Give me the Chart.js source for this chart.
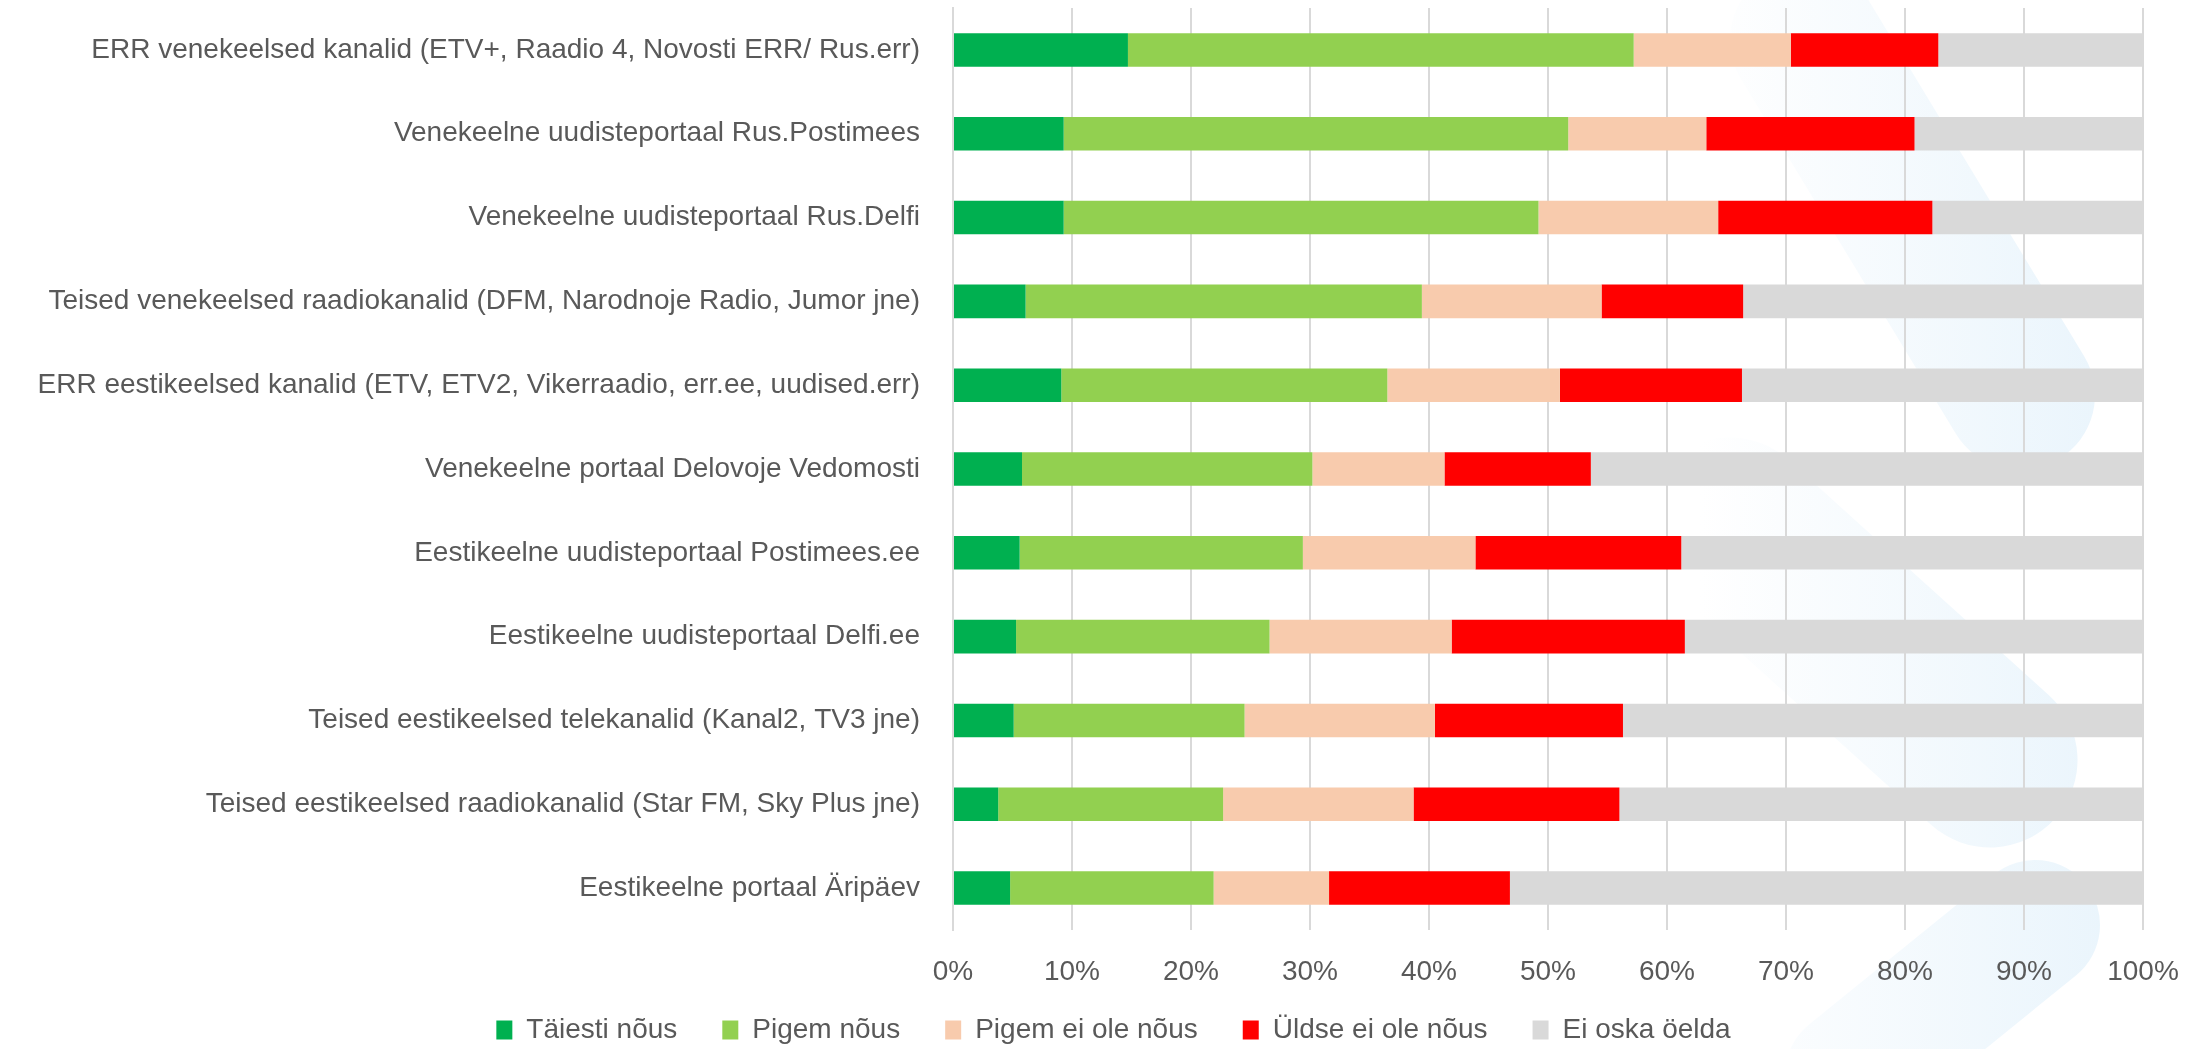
<!DOCTYPE html>
<html>
<head>
<meta charset="utf-8">
<script src="https://cdn.jsdelivr.net/npm/chart.js@4.4.1/dist/chart.umd.min.js"></script>
<style>
  html, body { margin: 0; padding: 0; background: #ffffff; }
  #wrap { width: 2204px; height: 1049px; position: relative; }
  #bg { position: absolute; left: 0; top: 0; z-index: 0; }
  #c { position: absolute; left: 0; top: 0; z-index: 1; }
</style>
</head>
<body>
<div id="wrap">
  <svg id="bg" width="2204" height="1049" xmlns="http://www.w3.org/2000/svg">
    <defs>
      <linearGradient id="wm" gradientUnits="userSpaceOnUse" x1="1700" y1="0" x2="2260" y2="0">
        <stop offset="0" stop-color="#FFFFFF"/>
        <stop offset="1" stop-color="#E2F1FB"/>
      </linearGradient>
    </defs>
    <g stroke="url(#wm)" fill="none" stroke-linecap="round">
      <line x1="1805" y1="40" x2="2020" y2="395" stroke-width="150"/>
      <line x1="1730" y1="525" x2="1990" y2="760" stroke-width="175"/>
      <line x1="1850" y1="1075" x2="2035" y2="925" stroke-width="130"/>
    </g>
  </svg>
  <canvas id="c" width="2204" height="1049"></canvas>
</div>
<script>
const categories = [
  "ERR venekeelsed kanalid (ETV+, Raadio 4, Novosti ERR/ Rus.err)",
  "Venekeelne uudisteportaal Rus.Postimees",
  "Venekeelne uudisteportaal Rus.Delfi",
  "Teised venekeelsed raadiokanalid (DFM, Narodnoje Radio, Jumor jne)",
  "ERR eestikeelsed kanalid (ETV, ETV2, Vikerraadio, err.ee, uudised.err)",
  "Venekeelne portaal Delovoje Vedomosti",
  "Eestikeelne uudisteportaal Postimees.ee",
  "Eestikeelne uudisteportaal Delfi.ee",
  "Teised eestikeelsed telekanalid (Kanal2, TV3 jne)",
  "Teised eestikeelsed raadiokanalid (Star FM, Sky Plus jne)",
  "Eestikeelne portaal Äripäev"
];
const seriesNames = ["Täiesti nõus", "Pigem nõus", "Pigem ei ole nõus", "Üldse ei ole nõus", "Ei oska öelda"];
const taiestiNous   = [14.7, 9.3, 9.3, 6.1, 9.1, 5.8, 5.6, 5.3, 5.1, 3.8, 4.8];
const pigemNous     = [42.5, 42.4, 39.9, 33.3, 27.4, 24.4, 23.8, 21.3, 19.4, 18.9, 17.1];
const pigemEiOle    = [13.2, 11.6, 15.1, 15.1, 14.5, 11.1, 14.5, 15.3, 16.0, 16.0, 9.7];
const uldseEiOle    = [12.4, 17.5, 18.0, 11.9, 15.3, 12.3, 17.3, 19.6, 15.8, 17.3, 15.2];
const eiOskaOelda   = [17.2, 19.2, 17.7, 33.6, 33.7, 46.4, 38.8, 38.5, 43.7, 44.0, 53.2];
const xTickValues = [0, 10, 20, 30, 40, 50, 60, 70, 80, 90, 100];
const colors = ["#00B050", "#92D050", "#F8CBAD", "#FF0000", "#D9D9D9"];

const seriesData = [taiestiNous, pigemNous, pigemEiOle, uldseEiOle, eiOskaOelda];
const FONT = "'Liberation Sans', Arial, sans-serif";
const TEXT = "#595959";
const FS = 28;

const legendPlacePlugin = {
  id: 'legendPlace',
  beforeInit(chart) {
    const lg = chart.legend;
    if (!lg) return;
    const orig = lg.fit;
    lg.fit = function () { orig.call(this); this.height = 60; };
  },
  afterLayout(chart) {
    const lg = chart.legend;
    if (!lg) return;
    lg.top -= 18;
    lg.left += 42; lg.right += 42;
  }
};

new Chart(document.getElementById('c'), {
  type: 'bar',
  data: {
    labels: categories,
    datasets: seriesData.map((d, i) => ({
      label: seriesNames[i],
      data: d,
      backgroundColor: colors[i],
      borderWidth: 0,
      barPercentage: 0.4,
      categoryPercentage: 1.0
    }))
  },
  plugins: [legendPlacePlugin],
  options: {
    indexAxis: 'y',
    responsive: false,
    animation: false,
    layout: { padding: { top: 8, right: 61, bottom: 0, left: 0 } },
    scales: {
      x: {
        stacked: true,
        min: 0, max: 100,
        afterBuildTicks: (s) => { s.ticks = xTickValues.map(v => ({ value: v })); },
        afterFit: (s) => { s.height = 59; s.paddingLeft = 0; s.paddingRight = 0; },
        ticks: {
          callback: (v) => v + '%',
          color: TEXT,
          font: { family: FONT, size: FS },
          padding: 25,
          maxRotation: 0
        },
        grid: { color: '#D9D9D9', lineWidth: 2, drawTicks: false },
        border: { display: false }
      },
      y: {
        stacked: true,
        afterFit: (s) => { s.width = 953; s.paddingTop = 0; s.paddingBottom = 0; },
        ticks: {
          color: TEXT,
          font: { family: FONT, size: FS },
          padding: 33,
          autoSkip: false
        },
        grid: { display: false, drawTicks: false },
        border: { display: true, color: '#D9D9D9', width: 2 }
      }
    },
    plugins: {
      legend: {
        position: 'bottom',
        labels: {
          color: TEXT,
          font: { family: FONT, size: FS },
          boxWidth: 16,
          boxHeight: 19,
          padding: 45
        }
      },
      tooltip: { enabled: false }
    }
  }
});
</script>
</body>
</html>
